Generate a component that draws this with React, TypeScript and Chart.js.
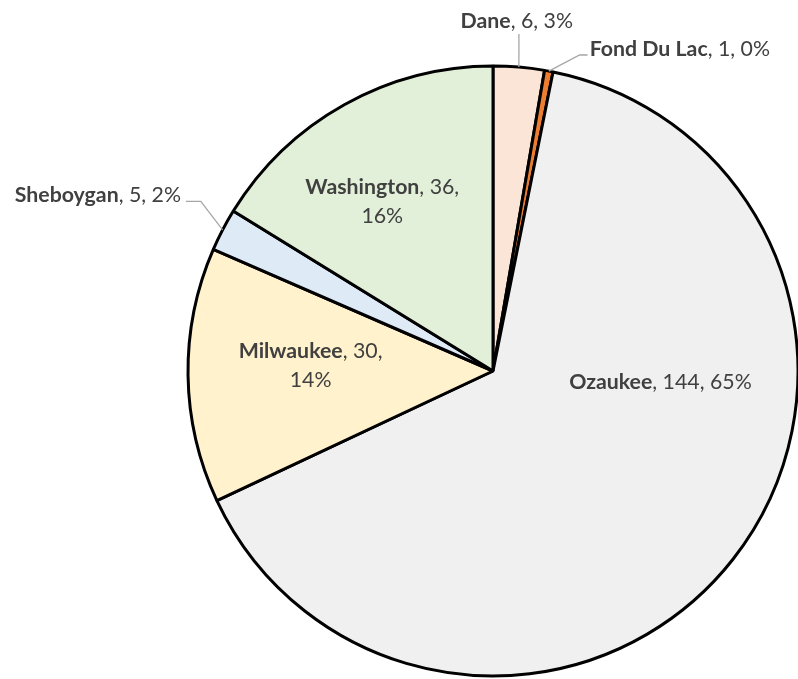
import React, { useEffect, useRef } from "react";
import { Chart, registerables } from "chart.js";

Chart.register(...registerables);

const counties = ["Dane", "Fond Du Lac", "Ozaukee", "Milwaukee", "Sheboygan", "Washington"];
const counts = [6, 1, 144, 30, 5, 36];
const fillColors = ["#FBE5D6", "#ED7D31", "#F0F0F0", "#FFF2CC", "#DEEBF7", "#E2F0D9"];

const TEXT_COLOR = "#404040";
const LEADER_COLOR = "#A6A6A6";
const FONT_FAMILY = "Lato, 'Open Sans', sans-serif";
const FONT_SIZE = 21.3;
const LINE_GAP = 29;

type Placement = {
  cx: number; // label anchor, fraction of radius from centre
  cy: number;
  align: "center" | "left" | "right";
  wrap: boolean;
  leader?: [number, number][]; // points after the arc mid-point, fraction of radius
};

const placements: Placement[] = [
  { cx: 0.078, cy: -1.147, align: "center", wrap: false, leader: [[0.085, -1.105]] },
  { cx: 0.317, cy: -1.056, align: "left", wrap: false, leader: [[0.284, -1.036], [0.31, -1.036]] },
  { cx: 0.549, cy: 0.036, align: "center", wrap: false },
  { cx: -0.598, cy: -0.016, align: "center", wrap: true },
  { cx: -1.023, cy: -0.578, align: "right", wrap: false, leader: [[-0.958, -0.556], [-1.007, -0.556]] },
  { cx: -0.363, cy: -0.556, align: "center", wrap: true },
];

const labelPlugin = {
  id: "pieLabels",
  afterDatasetsDraw(chart: any) {
    const ctx: CanvasRenderingContext2D = chart.ctx;
    const meta = chart.getDatasetMeta(0);
    const data: number[] = chart.data.datasets[0].data;
    const total = data.reduce((a, b) => a + b, 0);
    const bold = `bold ${FONT_SIZE}px ${FONT_FAMILY}`;
    const reg = `${FONT_SIZE}px ${FONT_FAMILY}`;
    meta.data.forEach((arc: any, i: number) => {
      const p = arc.getProps(["x", "y", "startAngle", "endAngle", "outerRadius"], true);
      const r = p.outerRadius;
      const mid = (p.startAngle + p.endAngle) / 2;
      const pl = placements[i];
      const name = chart.data.labels[i] as string;
      const pct = Math.round((data[i] / total) * 100) + "%";
      if (pl.leader) {
        ctx.save();
        ctx.strokeStyle = LEADER_COLOR;
        ctx.lineWidth = 1.3;
        ctx.beginPath();
        ctx.moveTo(p.x + Math.cos(mid) * r, p.y + Math.sin(mid) * r);
        pl.leader.forEach(([lx, ly]) => ctx.lineTo(p.x + lx * r, p.y + ly * r));
        ctx.stroke();
        ctx.restore();
      }
      const lines: { text: string; bold: boolean }[][] = pl.wrap
        ? [
            [
              { text: name, bold: true },
              { text: `, ${data[i]},`, bold: false },
            ],
            [{ text: pct, bold: false }],
          ]
        : [
            [
              { text: name, bold: true },
              { text: `, ${data[i]}, ${pct}`, bold: false },
            ],
          ];
      const ax = p.x + pl.cx * r;
      const ay = p.y + pl.cy * r;
      ctx.save();
      ctx.fillStyle = TEXT_COLOR;
      ctx.textBaseline = "middle";
      ctx.textAlign = "left";
      lines.forEach((segs, li) => {
        const widths = segs.map((s) => {
          ctx.font = s.bold ? bold : reg;
          return ctx.measureText(s.text).width;
        });
        const w = widths.reduce((a, b) => a + b, 0);
        let x = pl.align === "center" ? ax - w / 2 : pl.align === "left" ? ax : ax - w;
        const y = ay + (li - (lines.length - 1) / 2) * LINE_GAP;
        segs.forEach((s, si) => {
          ctx.font = s.bold ? bold : reg;
          ctx.fillText(s.text, x, y);
          x += widths[si];
        });
      });
      ctx.restore();
    });
  },
};

export default function App() {
  const canvasRef = useRef<HTMLCanvasElement | null>(null);
  useEffect(() => {
    const canvas = canvasRef.current;
    if (!canvas) return;
    const chart = new Chart(canvas, {
      type: "pie",
      data: {
        labels: counties,
        datasets: [
          {
            data: counts,
            backgroundColor: fillColors,
            borderColor: "#000000",
            borderWidth: 3,
            radius: 305,
          } as any,
        ],
      },
      options: {
        responsive: false,
        animation: false,
        layout: { padding: { left: 188, right: 0, top: 65, bottom: 2 } },
        plugins: {
          legend: { display: false },
          tooltip: { enabled: false },
        },
      },
      plugins: [labelPlugin],
    });
    return () => chart.destroy();
  }, []);
  return (
    <div style={{ position: "absolute", left: 0, top: 0, width: 798, height: 679, background: "#fff" }}>
      <canvas ref={canvasRef} width={798} height={679} style={{ width: 798, height: 679, display: "block" }} />
    </div>
  );
}
